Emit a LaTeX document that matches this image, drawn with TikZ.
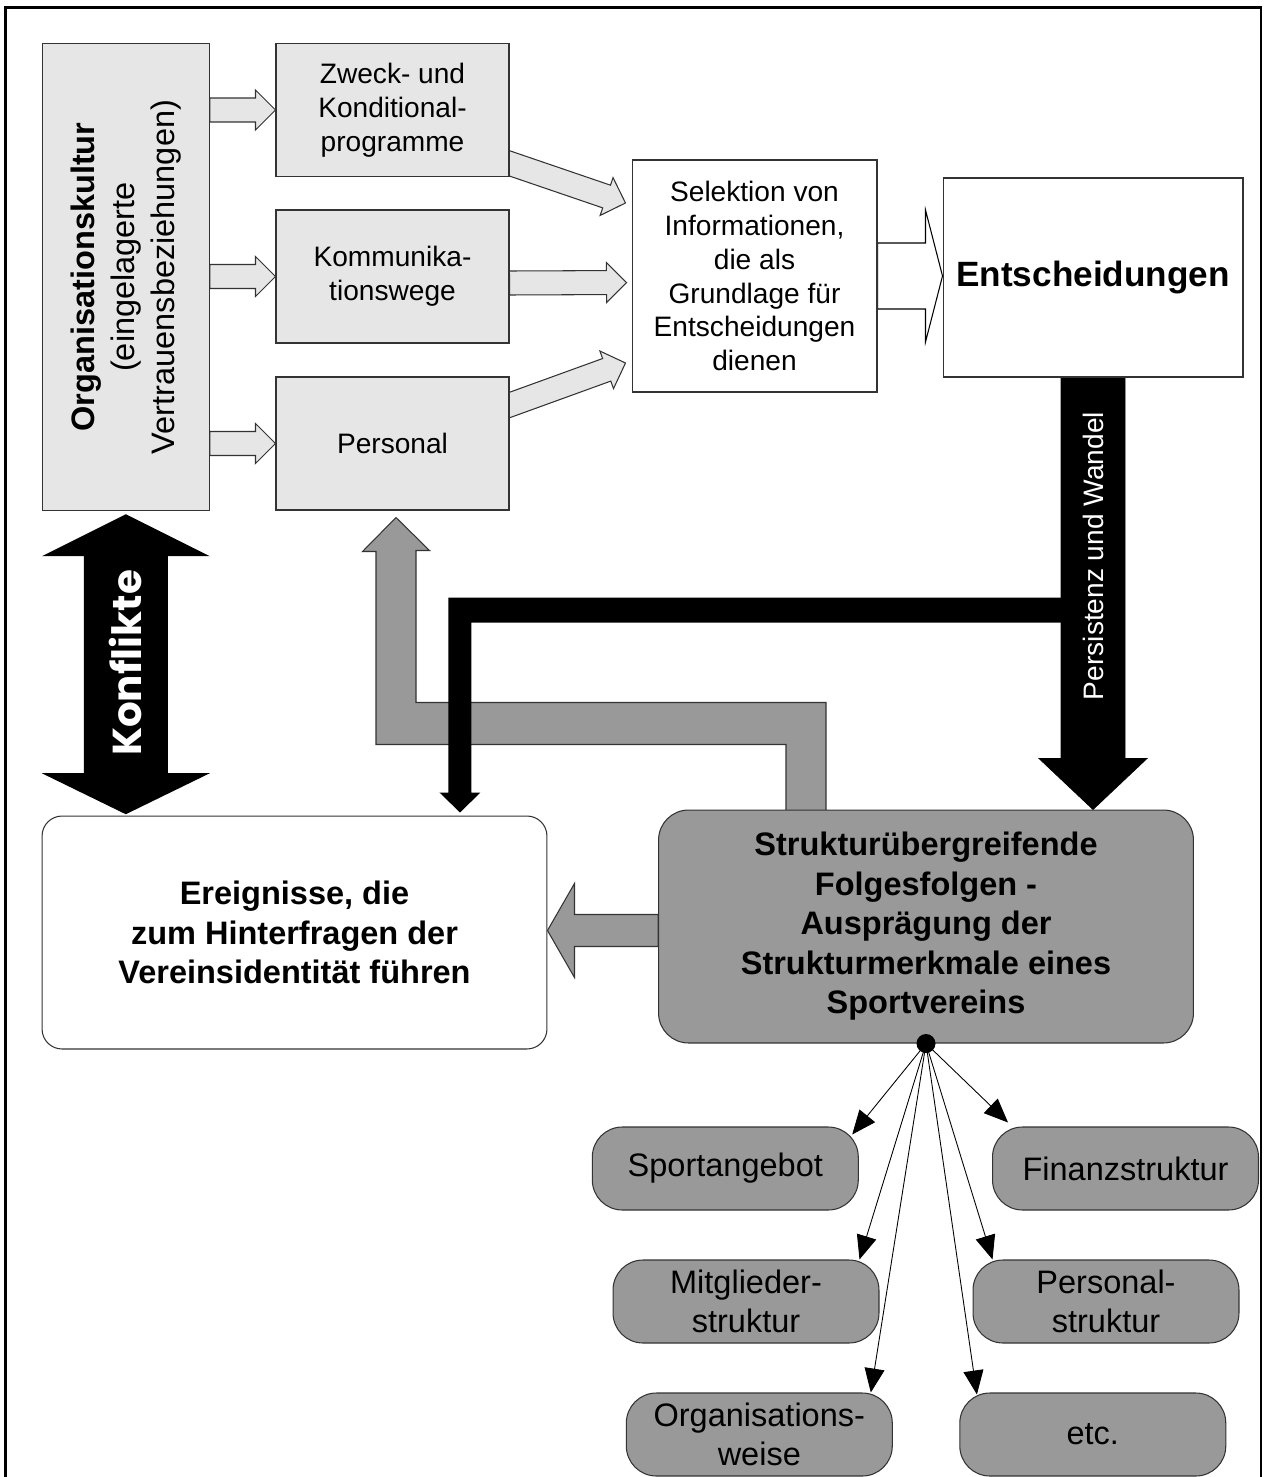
\documentclass[tikz,border=0pt]{standalone}
\usepackage{fontspec}
\setmainfont{Liberation Sans}
\newfontfamily\konffont{Poppins}
\usetikzlibrary{calc,arrows.meta}

\pgfdeclarelayer{bg}
\pgfsetlayers{bg,main}

\definecolor{hellgrau}{HTML}{E6E6E6}
\definecolor{mittelgrau}{HTML}{999999}
\definecolor{rand}{HTML}{333333}

\tikzset{
  rahmen/.style={line width=1.3pt},
  kasten/.style={draw=rand, line width=0.6pt, align=center, inner sep=0pt,
    font=\fontsize{16}{19.3}\selectfont},
  hellkasten/.style={kasten, fill=hellgrau, minimum width=4.66cm, minimum height=2.66cm},
  weisskasten/.style={kasten, fill=white},
  rundkasten/.style={kasten, rounded corners=0.6cm, minimum height=4.66cm,
    font=\bfseries\fontsize{18.5}{22.5}\selectfont},
  merkmal/.style={kasten, fill=mittelgrau, rounded corners=0.6cm, minimum width=5.32cm,
    minimum height=1.66cm, font=\fontsize{18.5}{22.5}\selectfont},
  hellpfeil/.style={draw=rand, line width=0.6pt, fill=hellgrau},
  graupfeil/.style={draw=rand, line width=0.6pt, fill=mittelgrau},
  faecher/.style={line width=0.5pt, -{Triangle[length=0.48cm, width=0.4cm]}},
}

% block arrow: [style]{from}{to}{half shaft}{half head}{head length}
\newcommand{\blockpfeil}[6][]{%
  \coordinate (bp-h) at ($(#3)!#6!(#2)$);
  \draw[#1] ($(#2)!#4!90:(#3)$) -- ($(bp-h)!#4!90:(#3)$) -- ($(bp-h)!#5!90:(#3)$)
    -- (#3) -- ($(bp-h)!#5!-90:(#3)$) -- ($(bp-h)!#4!-90:(#3)$)
    -- ($(#2)!#4!-90:(#3)$) -- cycle;
}

\begin{document}
\begin{tikzpicture}[x=0.02cm, y=-0.02cm]
  \useasboundingbox (0,0) rectangle (1264,1477);
  \draw[rahmen] (5.5,1477) -- (5.5,7.5) -- (1261,7.5) -- (1261,1477);

  % obere Reihe
  \node[hellkasten, rotate=90, minimum width=9.35cm, minimum height=3.34cm,
    font=\fontsize{18.5}{22.8}\selectfont] (kultur) at (125.8,277)
    {\textbf{Organisationskultur}\\(eingelagerte\\Vertrauensbeziehungen)};
  \node[hellkasten] (zweck) at (392.5,110) {Zweck- und\\Konditional-\\programme};
  \node[hellkasten] (komm) at (392.5,276.5) {Kommunika-\\tionswege};
  \node[hellkasten] (pers) at (392.5,443.5) {Personal};
  \node[weisskasten, minimum width=4.9cm, minimum height=4.64cm] (sel) at (754.5,276)
    {Selektion von\\Informationen,\\die als\\Grundlage für\\Entscheidungen\\dienen};
  \node[weisskasten, minimum width=6cm, minimum height=3.98cm,
    font=\bfseries\fontsize{20}{24}\selectfont] (entsch) at (1093,277.5) {Entscheidungen};

  % mittlere Reihe
  \node[rundkasten, fill=white, rounded corners=0.4cm, minimum width=10.1cm] (ereig)
    at (294.5,932.5) {Ereignisse, die\\zum Hinterfragen der\\Vereinsidentität führen};
  \node[rundkasten, fill=mittelgrau, minimum width=10.7cm] (struktur) at (926,926.5)
    {Strukturübergreifende\\Folgesfolgen -\\Ausprägung der\\Strukturmerkmale eines\\Sportvereins};

  % Strukturmerkmale
  \node[merkmal] (sport) at (725.3,1168.5) {Sportangebot};
  \node[merkmal] (finanz) at (1125.5,1168.5) {Finanzstruktur};
  \node[merkmal] (mitgl) at (746,1301.5) {Mitglieder-\\struktur};
  \node[merkmal] (persstr) at (1106,1301.5) {Personal-\\struktur};
  \node[merkmal] (orgw) at (759.3,1434.5) {Organisations-\\weise};
  \node[merkmal] (etc) at (1092.8,1434.5) {etc.};

  \node[circle, fill=black, inner sep=0pt, minimum size=0.38cm] (punkt) at (struktur.south) {};

  % Blockpfeile
  \begin{pgfonlayer}{bg}
    \coordinate (k1) at (kultur.south |- zweck.west);
    \coordinate (k2) at (kultur.south |- komm.west);
    \coordinate (k3) at (kultur.south |- pers.west);
    \blockpfeil[hellpfeil]{k1}{zweck.west}{0.24cm}{0.4cm}{0.4cm}
    \blockpfeil[hellpfeil]{k2}{komm.west}{0.24cm}{0.4cm}{0.4cm}
    \blockpfeil[hellpfeil]{k3}{pers.west}{0.24cm}{0.4cm}{0.4cm}

    \coordinate (zweck-aus) at ([shift={(-4,52)}]zweck.east);
    \coordinate (sel-ein1) at ([shift={(-6,-73)}]sel.west);
    \coordinate (komm-aus) at ([shift={(0,6.5)}]komm.east);
    \coordinate (sel-ein2) at ([shift={(-5,6.5)}]sel.west);
    \coordinate (pers-aus) at ([shift={(-4,-37)}]pers.east);
    \coordinate (sel-ein3) at ([shift={(-6,87)}]sel.west);
    \blockpfeil[hellpfeil]{zweck-aus}{sel-ein1}{0.24cm}{0.4cm}{0.4cm}
    \blockpfeil[hellpfeil]{komm-aus}{sel-ein2}{0.24cm}{0.4cm}{0.4cm}
    \blockpfeil[hellpfeil]{pers-aus}{sel-ein3}{0.24cm}{0.4cm}{0.4cm}

    \coordinate (entsch-ein) at (entsch.west |- sel.east);
    \blockpfeil[draw=black, line width=0.6pt, fill=white]{sel.east}{entsch-ein}{0.66cm}{1.32cm}{0.34cm}

    % Rueckkopplung grau
    \draw[graupfeil] ([shift={(-100,2)}]struktur.north) -- ++(0,-109) -- ++(-410,0)
      -- ++(0,-152) -- ++(13.5,0) -- ([shift={(3.5,7)}]pers.south) -- ++(-33.5,34)
      -- ++(13.5,0) -- ++(0,193) -- ++(410,0) -- ++(0,68) -- cycle;

    % Persistenz und Wandel
    \coordinate (struktur-ein) at (entsch.south |- struktur.north);
    \blockpfeil[fill=black]{entsch.south}{struktur-ein}{0.64cm}{1.08cm}{1.02cm}
    \fill ([shift={(-87.5,-3)}]ereig.north east) -- ++(20.5,-20) -- ++(-9,0) -- ++(0,-170)
      -- ++(599,0) -- ++(0,-25) -- ++(-622,0) -- ++(0,195) -- ++(-9,0) -- cycle;

    \coordinate (struktur-aus) at ([shift={(0,4)}]struktur.west);
    \coordinate (ereig-ein) at (ereig.east |- struktur-aus);
    \blockpfeil[graupfeil]{struktur-aus}{ereig-ein}{0.32cm}{0.94cm}{0.54cm}

    % Konflikte
    \fill ([shift={(0,3)}]kultur.west) -- ++(84,42) -- ++(-42,0) -- ++(0,217) -- ++(42,0)
      -- ++(-84,41) -- ++(-84,-41) -- ++(42,0) -- ++(0,-217) -- ++(-42,0) -- cycle;
  \end{pgfonlayer}

  \node[rotate=90, text=white, font=\fontsize{16}{19}\selectfont] (wandel) at (1093,556)
    {Persistenz und Wandel};
  \node[rotate=90, text=white, font=\konffont\bfseries\fontsize{23}{26}\selectfont] (konflikte)
    at (125.8,663) {Konflikte};

  \foreach \ziel/\ecke/\dx/\dy in {sport/north east/-6.6/8, finanz/north west/16/-4,
      mitgl/north east/-20/0, persstr/north west/20/0, orgw/north east/-22/0,
      etc/north west/17.6/2}
    \draw[faecher] (punkt.center) -- ([shift={(\dx,\dy)}]\ziel.\ecke);
\end{tikzpicture}
\end{document}
